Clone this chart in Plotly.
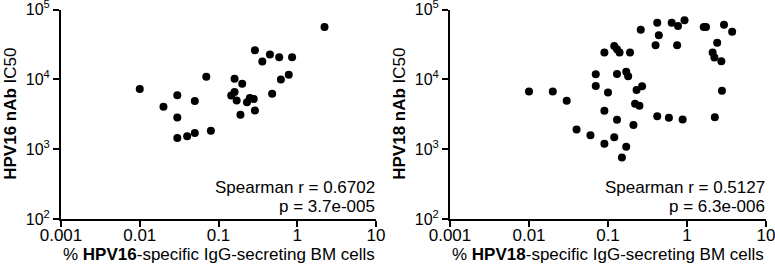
import plotly.graph_objects as go

# ---------------- data ----------------
hpv16_bm = [0.01, 0.02, 0.03, 0.03, 0.03, 0.04, 0.05, 0.05, 0.07, 0.08,
            0.145, 0.16, 0.17, 0.16, 0.19, 0.20, 0.23, 0.25, 0.28, 0.29,
            0.29, 0.36, 0.45, 0.48, 0.59, 0.62, 0.78, 0.86, 2.22]
hpv16_ic50 = [7300, 4050, 5900, 2840, 1440, 1530, 1700, 4910, 10900, 1840,
              5850, 6600, 4970, 10200, 3100, 8650, 4690, 5420, 5250, 3570,
              26100, 18000, 22600, 6240, 20700, 9970, 11600, 20700, 56000]

hpv18_bm = [0.01, 0.02, 0.03, 0.04, 0.06, 0.09, 0.12, 0.17, 0.15, 0.07,
            0.07, 0.10, 0.09, 0.13, 0.21, 0.09, 0.12, 0.13, 0.14, 0.19,
            0.13, 0.17, 0.18, 0.23, 0.27, 0.22, 0.25, 0.26, 0.42, 0.44,
            0.40, 0.64, 0.77, 0.93, 0.75, 1.63, 1.74, 2.94, 3.73, 2.41,
            2.11, 2.22, 2.72, 2.77, 2.25, 0.42, 0.59, 0.88]
hpv18_ic50 = [6670, 6670, 4930, 1920, 1580, 1200, 1480, 1080, 760, 11800,
              8050, 6490, 3540, 2640, 2220, 24200, 30100, 27000, 24200, 24200,
              11900, 12800, 11100, 7040, 7930, 4460, 4190, 51300, 64400, 42700,
              30800, 64400, 58200, 70400, 30800, 56300, 56300, 60400, 48000, 33400,
              24300, 20500, 18200, 6890, 2860, 2970, 2810, 2660]

x_tick_vals = [0.001, 0.01, 0.1, 1, 10]
x_tick_text = ["0.001", "0.01", "0.1", "1", "10"]
y_tick_vals = [100, 1000, 10000, 100000]
y_tick_text = ["10<sup>2</sup>", "10<sup>3</sup>", "10<sup>4</sup>", "10<sup>5</sup>"]

x_titles = ["% <b>HPV16</b>-specific IgG-secreting BM cells",
            "% <b>HPV18</b>-specific IgG-secreting BM cells"]
y_titles = ["<b>HPV16 nAb</b> IC50", "<b>HPV18 nAb</b> IC50"]
stats_r = ["Spearman r = 0.6702", "Spearman r = 0.5127"]
stats_p = ["p = 3.7e-005", "p = 6.3e-006"]

# ---------------- figure ----------------
W, H = 775, 279
FONT = "Liberation Sans, Arial, sans-serif"
FS = 17

fig = go.Figure()
fig.add_trace(go.Scatter(x=hpv16_bm, y=hpv16_ic50, mode="markers",
                         marker=dict(color="black", size=8),
                         xaxis="x", yaxis="y", showlegend=False))
fig.add_trace(go.Scatter(x=hpv18_bm, y=hpv18_ic50, mode="markers",
                         marker=dict(color="black", size=8),
                         xaxis="x2", yaxis="y2", showlegend=False))

TOP, BOT = 9.5, 219.0
ydom = [1 - BOT / H, 1 - TOP / H]
xpix = [[61, 376], [450, 766]]
xdoms = [[a / W, b / W] for a, b in xpix]
EPS = 1e-6

def xax(i):
    return dict(domain=xdoms[i], type="log", range=[-3 - EPS, 1 + EPS],
                tickvals=x_tick_vals, ticktext=x_tick_text,
                ticks="outside", ticklen=6, tickwidth=2, tickcolor="black",
                ticklabelstandoff=-6, ticklabeloverflow="allow",
                showline=True, linecolor="black", linewidth=2,
                showgrid=False, zeroline=False, automargin=False,
                tickfont=dict(family=FONT, size=FS, color="black"),
                anchor="y" if i == 0 else "y2")

def yax(i):
    return dict(domain=ydom, type="log", range=[2 - EPS, 5 + EPS],
                tickvals=y_tick_vals, ticktext=y_tick_text,
                ticks="outside", ticklen=6, tickwidth=2, tickcolor="black",
                ticklabeloverflow="allow",
                showline=True, linecolor="black", linewidth=2,
                showgrid=False, zeroline=False, automargin=False,
                tickfont=dict(family=FONT, size=16, color="black"),
                anchor="x" if i == 0 else "x2")

annotations = []
for i in range(2):
    xr = "x domain" if i == 0 else "x2 domain"
    yr = "y domain" if i == 0 else "y2 domain"
    span = BOT - TOP
    annotations.append(dict(text=stats_r[i], xref=xr, yref=yr, x=1, y=31 / span,
                            xanchor="right", yanchor="middle", showarrow=False,
                            font=dict(family=FONT, size=FS, color="black"), borderpad=0))
    annotations.append(dict(text=stats_p[i], xref=xr, yref=yr, x=1, y=12 / span,
                            xanchor="right", yanchor="middle", showarrow=False,
                            font=dict(family=FONT, size=FS, color="black"), borderpad=0))
    # x-axis title
    xc = (xpix[i][0] + xpix[i][1]) / 2
    annotations.append(dict(text=x_titles[i], xref="paper", yref="paper",
                            x=xc / W, y=1 - 254 / H, xanchor="center", yanchor="middle",
                            showarrow=False, borderpad=0,
                            font=dict(family=FONT, size=FS, color="black")))
    # y-axis title
    yc = (TOP + BOT) / 2
    annotations.append(dict(text=y_titles[i], xref="paper", yref="paper",
                            x=(xpix[i][0] - 50.5) / W, y=1 - yc / H,
                            xanchor="center", yanchor="middle", textangle=-90,
                            showarrow=False, borderpad=0,
                            font=dict(family=FONT, size=FS, color="black")))

fig.update_layout(
    width=W, height=H,
    margin=dict(l=0, r=0, t=0, b=0),
    paper_bgcolor="white", plot_bgcolor="white",
    font=dict(family=FONT, size=FS, color="black"),
    xaxis=xax(0), yaxis=yax(0), xaxis2=xax(1), yaxis2=yax(1),
    annotations=annotations,
)

fig.write_html("out.html")
